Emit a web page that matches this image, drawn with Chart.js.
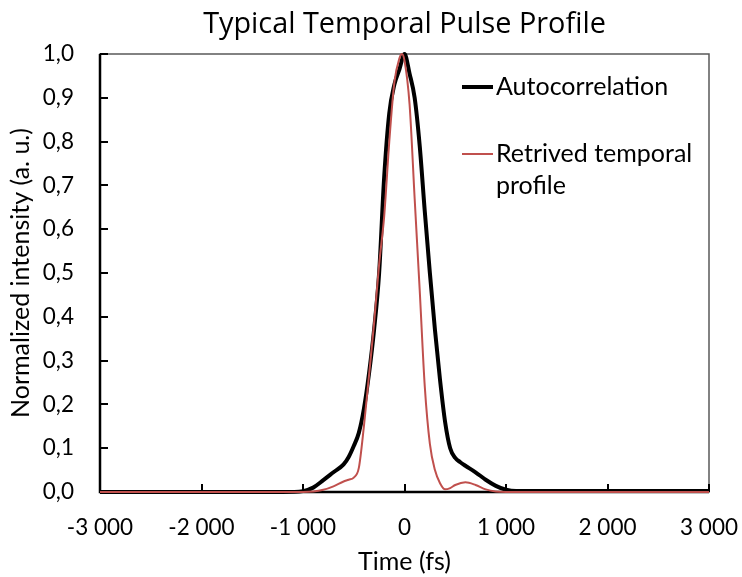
<!DOCTYPE html>
<html><head><meta charset="utf-8">
<script src="https://cdn.jsdelivr.net/npm/chart.js@4.4.1/dist/chart.umd.min.js"></script>
<style>html,body{margin:0;padding:0;background:#fff;}#wrap{width:742px;height:577px;}</style>
</head><body><div id="wrap"><canvas id="c" width="742" height="577"></canvas></div>
<script>
const chartTitle = 'Typical Temporal Pulse Profile';
const xAxisTitle = 'Time (fs)';
const yAxisTitle = 'Normalized intensity (a. u.)';
const seriesNames = ['Autocorrelation', 'Retrived temporal profile'];
const legendLines = [['Autocorrelation'], ['Retrived temporal', 'profile']];
const xTickValues = [-3000, -2000, -1000, 0, 1000, 2000, 3000];
const yTickValues = [0, 0.1, 0.2, 0.3, 0.4, 0.5, 0.6, 0.7, 0.8, 0.9, 1.0];

const autoTime  = [-3000,-2000,-1200,-1000,-900,-800,-700,-600,-550,-500,-450,-400,-350,-300,-250,-200,-150,-100,-50,0,50,100,150,200,250,300,350,400,450,500,550,600,700,800,900,1000,1100,1500,2000,3000];
const autoValue = [0,0,0,0.002,0.01,0.027,0.045,0.063,0.08,0.105,0.135,0.19,0.27,0.37,0.5,0.72,0.865,0.93,0.965,1.0,0.955,0.9,0.79,0.64,0.5,0.37,0.256,0.16,0.1,0.078,0.068,0.06,0.045,0.028,0.014,0.005,0.002,0.002,0.002,0.002];

const retTime  = [-3000,-2000,-1000,-900,-800,-700,-600,-550,-500,-450,-400,-350,-300,-250,-200,-150,-100,-50,-25,0,50,100,150,200,250,300,350,400,450,500,600,700,800,900,1000,2000,3000];
const retValue = [0,0,0,0.001,0.005,0.013,0.024,0.028,0.033,0.055,0.15,0.265,0.385,0.52,0.63,0.8,0.935,0.99,1.0,0.985,0.885,0.67,0.46,0.24,0.11,0.05,0.02,0.006,0.009,0.016,0.022,0.016,0.006,0.001,0,0,0];

const FONT = 'Lato, "Liberation Sans", sans-serif';
const RED = '#C0504D';

function fmtThousands(v) {
  const s = Math.abs(Math.round(v)).toString().replace(/\B(?=(\d{3})+(?!\d))/g, '\u00A0');
  return (v < 0 ? '-' : '') + s;
}

const framePlugin = {
  id: 'frame',
  beforeDatasetsDraw(chart) {
    const {ctx, chartArea: a, scales} = chart;
    ctx.save();
    ctx.strokeStyle = '#595959';
    ctx.lineWidth = 1.5;
    ctx.strokeRect(a.left, a.top, a.right - a.left, a.bottom - a.top);
    ctx.strokeStyle = '#000';
    ctx.lineWidth = 2.5;
    ctx.beginPath();
    ctx.moveTo(a.left, a.top); ctx.lineTo(a.left, a.bottom); ctx.lineTo(a.right, a.bottom);
    ctx.stroke();
    ctx.lineWidth = 2;
    yTickValues.forEach(v => {
      const y = Math.round(scales.y.getPixelForValue(v));
      ctx.beginPath(); ctx.moveTo(a.left, y); ctx.lineTo(a.left + 8, y); ctx.stroke();
    });
    xTickValues.forEach(v => {
      const x = Math.round(scales.x.getPixelForValue(v));
      ctx.beginPath(); ctx.moveTo(x, a.bottom); ctx.lineTo(x, a.bottom - 8); ctx.stroke();
    });
    ctx.restore();
  },
  afterDraw(chart) {
    const {ctx, chartArea: a} = chart;
    ctx.save();
    let size = 24;
    ctx.font = size + 'px "Open Sans", sans-serif';
    const w = ctx.measureText(chartTitle).width;
    size = size * 403 / w;
    ctx.font = size + 'px "Open Sans", sans-serif';
    ctx.fillStyle = '#000';
    ctx.textAlign = 'center';
    ctx.textBaseline = 'alphabetic';
    ctx.fillText(chartTitle, (a.left + a.right) / 2, 33);
    ctx.font = '25px ' + FONT;
    ctx.textAlign = 'left';
    ctx.textBaseline = 'middle';
    const items = [
      {color: '#000', width: 4, y: 87},
      {color: RED, width: 2, y: 154}
    ];
    items.forEach((it, i) => {
      ctx.strokeStyle = it.color;
      ctx.lineWidth = it.width;
      ctx.beginPath(); ctx.moveTo(462, it.y); ctx.lineTo(493, it.y); ctx.stroke();
      legendLines[i].forEach((t, j) => ctx.fillText(t, 496, it.y + j * 32));
    });
    ctx.restore();
  }
};

new Chart(document.getElementById('c'), {
  type: 'line',
  data: {
    datasets: [
      {
        label: seriesNames[0],
        data: autoTime.map((t, i) => ({x: t, y: autoValue[i]})),
        borderColor: '#000', borderWidth: 4, pointRadius: 0,
        cubicInterpolationMode: 'monotone', order: 1,
        clip: {left: 0, right: 0, top: 5, bottom: 5}
      },
      {
        label: seriesNames[1],
        data: retTime.map((t, i) => ({x: t, y: retValue[i]})),
        borderColor: RED, borderWidth: 2, pointRadius: 0,
        cubicInterpolationMode: 'monotone', order: 0,
        clip: {left: 0, right: 0, top: 5, bottom: 5}
      }
    ]
  },
  options: {
    responsive: false, animation: false, devicePixelRatio: 1,
    layout: {padding: {top: 54, right: 33, bottom: 0, left: 0}},
    plugins: {legend: {display: false}, title: {display: false}, tooltip: {enabled: false}},
    scales: {
      x: {
        type: 'linear', min: -3000, max: 3000,
        afterBuildTicks: s => { s.ticks = xTickValues.map(v => ({value: v})); },
        afterFit: s => { s.height = 85; s.paddingLeft = 0; s.paddingRight = 0; },
        grid: {display: false, drawTicks: false}, border: {display: false},
        ticks: {color: '#000', font: {family: FONT, size: 22.5}, padding: 22, maxRotation: 0,
                callback: v => fmtThousands(v)},
        title: {display: true, text: xAxisTitle, color: '#000', font: {family: FONT, size: 25}, padding: {top: 0, bottom: 0}}
      },
      y: {
        min: 0, max: 1,
        afterBuildTicks: s => { s.ticks = yTickValues.map(v => ({value: v})); },
        afterFit: s => { s.width = 100; s.paddingTop = 0; s.paddingBottom = 0; },
        grid: {display: false, drawTicks: false}, border: {display: false},
        ticks: {color: '#000', font: {family: FONT, size: 22.5}, padding: 26,
                callback: v => v.toFixed(1).replace('.', ',')},
        title: {display: true, text: yAxisTitle, color: '#000', font: {family: FONT, size: 25}, padding: {top: 6, bottom: 0}}
      }
    }
  },
  plugins: [framePlugin]
});
</script>
</body></html>
